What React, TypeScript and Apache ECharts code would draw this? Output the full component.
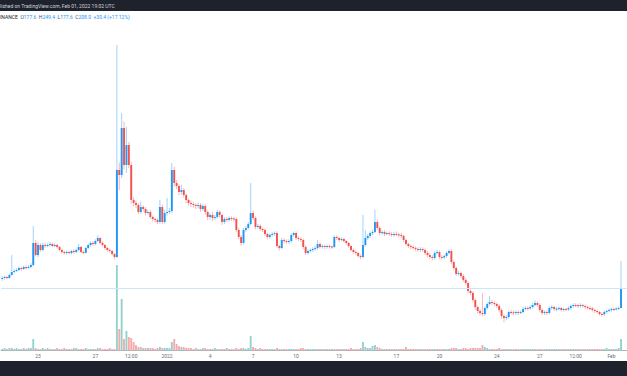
import React, { useEffect, useRef } from "react";
import * as echarts from "echarts";

// 4h candles, Dec 20 12:00 -> Feb 01 16:00 (2021/2022) : [open, close, low, high]
const ohlc: number[][] = [
  [221.7, 223.2, 219, 226], [223.2, 224.7, 221, 227], [224.7, 223.2, 221, 226.5], [223.2, 227.8, 222, 230],
  [227.8, 232.3, 226, 258], [232.3, 233.8, 230, 237], [233.8, 235.4, 232, 238], [235.4, 238.4, 234, 241],
  [238.4, 236.9, 234, 240], [236.9, 239.9, 235, 242], [239.9, 238.4, 236, 242], [238.4, 239.9, 237, 243],
  [239.9, 243.0, 238, 246], [243.0, 276.4, 241, 302], [276.4, 258.2, 256, 281], [258.2, 273.4, 255, 278],
  [273.4, 265.8, 263, 276], [265.8, 273.4, 264, 277], [273.4, 271.8, 269, 276], [271.8, 273.4, 270, 276],
  [273.4, 274.9, 271, 278], [274.9, 271.8, 270, 277], [271.8, 273.4, 270, 276], [273.4, 270.3, 268, 275],
  [270.3, 265.8, 264, 272], [265.8, 262.7, 260, 268], [262.7, 261.2, 259, 265], [261.2, 262.7, 259, 265],
  [262.7, 261.2, 259, 264], [261.2, 264.2, 259, 266], [264.2, 262.7, 260, 267], [262.7, 265.8, 261, 268],
  [265.8, 270.3, 264, 275], [270.3, 262.7, 261, 272], [262.7, 261.5, 259, 265], [261.5, 268.8, 260, 271],
  [268.8, 273.4, 267, 276], [273.4, 276.4, 271, 279], [276.4, 274.9, 272, 279], [274.9, 279.4, 273, 282],
  [279.4, 284.0, 278, 288], [284.0, 276.4, 274, 286], [276.4, 273.4, 271, 279], [273.4, 268.8, 266, 275],
  [268.8, 265.8, 263, 271], [265.8, 264.2, 262, 268], [264.2, 259.7, 257, 266], [259.7, 255.1, 252, 261],
  [255.1, 387.4, 253, 577.4], [387.4, 379.8, 357, 399], [379.8, 451.2, 375, 474], [451.2, 395.0, 388, 461],
  [395.0, 425.4, 383, 453], [425.4, 395.0, 390, 430], [395.0, 341.8, 336, 400], [341.8, 337.2, 332, 346],
  [337.2, 334.2, 329, 341], [334.2, 323.5, 320, 337], [323.5, 331.1, 321, 339], [331.1, 328.1, 324, 334],
  [328.1, 322.0, 318, 331], [322.0, 323.5, 319, 327], [323.5, 315.9, 313, 326], [315.9, 312.9, 309, 318],
  [312.9, 311.4, 308, 315], [311.4, 308.3, 305, 314], [308.3, 331.1, 306, 342], [331.1, 308.3, 305, 335],
  [308.3, 322.0, 306, 327], [322.0, 323.5, 318, 345], [323.5, 325.0, 320, 330], [325.0, 387.4, 322, 398],
  [387.4, 367.6, 362, 392], [367.6, 363.0, 358, 372], [363.0, 353.9, 349, 366], [353.9, 357.0, 350, 365],
  [357.0, 349.4, 345, 360], [349.4, 341.8, 337, 352], [341.8, 337.2, 333, 344], [337.2, 335.7, 331, 341],
  [335.7, 334.2, 330, 339], [334.2, 332.6, 328, 337], [332.6, 334.2, 329, 338], [334.2, 328.1, 324, 337],
  [328.1, 332.6, 325, 336], [332.6, 323.5, 319, 335], [323.5, 315.9, 311, 326], [315.9, 319.0, 312, 322],
  [319.0, 314.4, 310, 324], [314.4, 315.9, 311, 319], [315.9, 323.5, 313, 327], [323.5, 319.0, 315, 326],
  [319.0, 308.3, 304, 321], [308.3, 312.9, 305, 316], [312.9, 311.4, 308, 316], [311.4, 314.4, 309, 317],
  [314.4, 313.5, 310, 317], [313.5, 312.9, 309, 316], [312.9, 296.2, 293, 315], [296.2, 285.5, 282, 299],
  [285.5, 276.4, 272, 288], [276.4, 296.2, 274, 299], [296.2, 299.2, 293, 302], [299.2, 305.3, 297, 308],
  [305.3, 322.0, 303, 367.6], [322.0, 314.4, 311, 326], [314.4, 300.7, 297, 317], [300.7, 302.3, 298, 305],
  [302.3, 297.7, 295, 305], [297.7, 296.2, 293, 300], [296.2, 290.1, 287, 299], [290.1, 285.5, 282, 292],
  [285.5, 288.6, 283, 291], [288.6, 290.1, 286, 293], [290.1, 291.6, 287, 294], [291.6, 271.8, 269, 294],
  [271.8, 268.8, 265, 274], [268.8, 281.0, 267, 284], [281.0, 279.4, 276, 284], [279.4, 277.9, 275, 282],
  [277.9, 279.4, 275, 282], [279.4, 288.6, 277, 291], [288.6, 291.6, 286, 294], [291.6, 284.0, 281, 294],
  [284.0, 282.5, 279, 287], [282.5, 281.0, 278, 285], [281.0, 270.3, 267, 283], [270.3, 261.2, 258, 273],
  [261.2, 264.2, 259, 267], [264.2, 265.8, 262, 268], [265.8, 267.3, 263, 270], [267.3, 268.8, 265, 272],
  [268.8, 274.9, 266, 281], [274.9, 270.3, 268, 277], [270.3, 271.8, 268, 274], [271.8, 270.3, 267, 274],
  [270.3, 271.8, 268, 274], [271.8, 271.0, 268, 274], [271.0, 270.3, 267, 273], [270.3, 285.5, 269, 288],
  [285.5, 284.0, 281, 288], [284.0, 281.0, 278, 286], [281.0, 282.5, 279, 285], [282.5, 279.4, 277, 284],
  [279.4, 276.4, 274, 281], [276.4, 271.8, 269, 278], [271.8, 265.8, 263, 273], [265.8, 262.7, 260, 268],
  [262.7, 261.2, 258, 265], [261.2, 256.6, 254, 263], [256.6, 255.1, 252, 259], [255.1, 273.4, 253, 319],
  [273.4, 284.0, 271, 296], [284.0, 287.1, 281, 290], [287.1, 291.6, 284, 294], [291.6, 293.1, 288, 297],
  [293.1, 308.3, 291, 327], [308.3, 299.2, 296, 312], [299.2, 291.6, 288, 302], [291.6, 293.1, 289, 296],
  [293.1, 290.1, 287, 296], [290.1, 291.6, 288, 294], [291.6, 290.1, 287, 294], [290.1, 288.6, 286, 293],
  [288.6, 290.1, 286, 293], [290.1, 289.5, 287, 294], [289.5, 288.6, 285, 292], [288.6, 287.1, 284, 292],
  [287.1, 281.0, 278, 289], [281.0, 274.9, 272, 283], [274.9, 271.8, 269, 277], [271.8, 270.3, 267, 274],
  [270.3, 268.8, 266, 273], [268.8, 267.3, 264, 271], [267.3, 265.8, 263, 270], [265.8, 267.3, 263, 270],
  [267.3, 265.8, 263, 270], [265.8, 261.2, 258, 268], [261.2, 258.2, 255, 264], [258.2, 255.1, 252, 261],
  [255.1, 253.6, 250, 258], [253.6, 261.2, 251, 264], [261.2, 262.7, 259, 266], [262.7, 255.1, 252, 265],
  [255.1, 254.5, 251, 258], [254.5, 256.6, 252, 259], [256.6, 261.2, 254, 264], [261.2, 264.2, 259, 267],
  [264.2, 247.5, 244, 267], [247.5, 238.4, 235, 250], [238.4, 229.3, 226, 241], [229.3, 230.8, 226, 234],
  [230.8, 226.2, 223, 233], [226.2, 220.2, 217, 229], [220.2, 215.6, 212, 223], [215.6, 203.4, 200, 218],
  [203.4, 200.4, 197, 206], [200.4, 189.8, 186, 203], [189.8, 179.1, 175, 192], [179.1, 173.0, 169, 181],
  [173.0, 170.0, 166, 176], [170.0, 168.5, 165, 200], [168.5, 177.6, 166, 180], [177.6, 183.7, 175, 186],
  [183.7, 186.7, 181, 196], [186.7, 185.2, 182, 190], [185.2, 183.7, 180, 188], [183.7, 180.6, 177, 186],
  [180.6, 174.6, 171, 183], [174.6, 165.4, 161, 177], [165.4, 162.4, 156, 168], [162.4, 163.9, 159, 167],
  [163.9, 171.5, 161, 174], [171.5, 171.0, 168, 175], [171.0, 170.0, 167, 174], [170.0, 171.5, 167, 174],
  [171.5, 170.0, 167, 174], [170.0, 171.5, 168, 174], [171.5, 176.1, 169, 179], [176.1, 177.6, 174, 180],
  [177.6, 177.0, 174, 180], [177.0, 179.1, 175, 182], [179.1, 182.2, 177, 185], [182.2, 185.2, 180, 189],
  [185.2, 182.2, 179, 188], [182.2, 174.6, 171, 185], [174.6, 170.0, 167, 177], [170.0, 171.5, 167, 174],
  [171.5, 170.0, 167, 174], [170.0, 177.6, 168, 180], [177.6, 179.1, 175, 182], [179.1, 176.1, 173, 181],
  [176.1, 176.6, 173, 179], [176.6, 177.6, 174, 180], [177.6, 174.6, 172, 179], [174.6, 176.1, 172, 178],
  [176.1, 175.5, 173, 178], [175.5, 177.6, 173, 180], [177.6, 180.6, 175, 183], [180.6, 182.2, 178, 185],
  [182.2, 181.6, 179, 185], [181.6, 180.6, 178, 184], [180.6, 182.2, 178, 185], [182.2, 180.6, 178, 184],
  [180.6, 179.1, 176, 183], [179.1, 177.6, 175, 181], [177.6, 177.0, 174, 180], [177.0, 174.6, 172, 179],
  [174.6, 173.0, 170, 177], [173.0, 171.5, 169, 175], [171.5, 168.5, 166, 173], [168.5, 168.0, 165, 171],
  [168.0, 171.5, 166, 174], [171.5, 173.0, 169, 175], [173.0, 174.6, 171, 177], [174.6, 176.1, 172, 178],
  [176.1, 175.8, 173, 178], [175.8, 176.8, 174, 179], [176.8, 177.6, 175, 180], [177.6, 208.0, 177.6, 249.4],
];

const volumes: number[] = [
  1, 2, 1, 2, 2, 1, 2, 1, 1, 2, 1, 2, 2,
  11,
  2, 1, 1, 2, 1,
  2, 1, 1, 1, 2, 1, 1, 2, 1, 1, 1, 2, 2, 1, 1, 1, 2, 1, 1, 1, 1, 2, 2, 1, 1, 1, 2, 1, 1,
  85, 21, 51, 11, 19, 13, 12, 8, 5, 3, 3, 2, 2, 2, 2, 2, 1, 2, 3, 2, 2, 2, 2, 8, 11, 6, 4, 3, 3,
  2, 2, 2, 1, 2, 1, 1, 2, 2, 1, 1, 1, 2, 1, 1, 1, 1, 2, 1, 1, 1, 2, 1, 2, 2, 1, 2,
  14,
  3, 2, 1, 2, 1, 1, 1, 1, 1, 1,
  2, 1, 1, 1, 1, 1, 1, 1, 1, 1,
  2, 2, 1, 1, 1, 1, 1, 1, 1, 1,
  1, 1, 1, 1, 1, 1, 1, 1, 1, 1,
  1, 2, 1, 1, 1, 2,
  8, 3, 2, 2, 4, 5, 3, 2,
  1, 1, 1, 1, 1, 1, 1, 1, 1, 1,
  3, 1, 1, 1, 1, 1, 1, 1, 1, 1,
  1, 1, 1, 1, 1, 1, 1, 1, 1, 2,
  2, 2, 1, 1, 2, 2, 1, 2, 2, 2,
  2, 2,
  5, 3, 2,
  1, 1, 1, 1, 2, 1, 1, 1, 1, 1,
  1, 1, 1, 1, 1, 1, 1, 1, 1, 1,
  1, 1, 1, 1, 1, 1, 1, 1, 1, 1,
  1, 1, 1, 1, 1, 1, 1, 1, 1, 1,
  1, 1, 1, 1, 1, 1, 1, 1, 1, 2,
  1, 1, 1, 1, 2,
  11,
];

const tickIndex = [15, 39, 54, 69, 87, 105, 123, 141, 165, 183, 207, 225, 240, 255];
const tickLabels = ["23", "27", "12:00", "2022", "4", "7", "10", "13", "17", "20", "24", "27", "12:00", "Feb"];
const lastQuote = { o: "177.6", h: "249.4", l: "177.6", c: "208.0", chg: "+30.4 (+17.12%)", close: 208.0 };
const slotCount = 262;

const UP = "#2196f3";
const DOWN = "#ef5350";
const WICK_UP = "rgba(33,150,243,0.42)";
const WICK_DOWN = "rgba(239,83,80,0.42)";
const VOL_UP = "rgba(38,166,154,0.5)";
const VOL_DOWN = "rgba(239,83,80,0.5)";

export default function App() {
  const ref = useRef<HTMLDivElement>(null);
  useEffect(() => {
    const chart = echarts.init(ref.current!, null, { renderer: "svg" });
    const cats = Array.from({ length: slotCount }, (_, i) => String(i));
    const font = "Roboto, 'Liberation Sans', sans-serif";

    const renderItem = (params: any, api: any) => {
      const idx = api.value(0);
      const o = api.value(1);
      const c = api.value(2);
      const l = api.value(3);
      const h = api.value(4);
      const pO = api.coord([idx, o]);
      const pC = api.coord([idx, c]);
      const pL = api.coord([idx, l]);
      const pH = api.coord([idx, h]);
      const w = api.size([1, 0])[0] * 0.8;
      const up = c >= o;
      const top = Math.min(pO[1], pC[1]);
      const bh = Math.max(Math.abs(pO[1] - pC[1]), 1);
      return {
        type: "group",
        children: [
          {
            type: "line",
            shape: { x1: pH[0], y1: pH[1], x2: pL[0], y2: pL[1] },
            style: { stroke: up ? WICK_UP : WICK_DOWN, lineWidth: 1 },
          },
          {
            type: "rect",
            shape: { x: pO[0] - w / 2, y: top, width: w, height: bh },
            style: { fill: up ? UP : DOWN },
          },
        ],
      };
    };

    const option: any = {
      animation: false,
      backgroundColor: "#ffffff",
      grid: [
        { left: 1, right: 0, top: 20, height: 330 },
        { left: 1, right: 0, top: 250, height: 100 },
      ],
      xAxis: [
        {
          type: "category", gridIndex: 0, data: cats, boundaryGap: true,
          axisLine: { show: false }, axisTick: { show: false }, axisLabel: { show: false }, splitLine: { show: false },
        },
        {
          type: "category", gridIndex: 1, data: cats, boundaryGap: true,
          axisLine: { show: true, lineStyle: { color: "#b2b5be", width: 1 } },
          axisTick: { show: false },
          splitLine: { show: false },
          axisLabel: {
            show: true,
            interval: (index: number) => tickIndex.includes(index),
            formatter: (_v: string, index: number) => {
              const k = tickIndex.indexOf(index);
              return k >= 0 ? tickLabels[k] : "";
            },
            fontSize: 5,
            color: "#6a6d78",
            fontFamily: font,
            margin: 3,
            hideOverlap: false,
          },
        },
      ],
      yAxis: [
        { type: "value", gridIndex: 0, min: 113.76, max: 615.36, show: false, splitLine: { show: false } },
        { type: "value", gridIndex: 1, min: 0, max: 100, show: false, splitLine: { show: false } },
      ],
      series: [
        {
          type: "bar",
          xAxisIndex: 1,
          yAxisIndex: 1,
          barCategoryGap: "22%",
          data: volumes.map((v, i) => ({
            value: v,
            itemStyle: { color: ohlc[i][1] >= ohlc[i][0] ? VOL_UP : VOL_DOWN },
          })),
        },
        {
          type: "custom",
          xAxisIndex: 0,
          yAxisIndex: 0,
          renderItem,
          encode: { x: 0, y: [1, 2, 3, 4] },
          data: ohlc.map((d, i) => [i, d[0], d[1], d[2], d[3]]),
          markLine: {
            silent: true,
            symbol: ["none", "none"],
            label: { show: false },
            lineStyle: { color: "#cce5fb", width: 1, type: "solid" },
            data: [{ yAxis: lastQuote.close }],
          },
        },
      ],
      graphic: [
        { type: "rect", left: 0, top: 0, shape: { width: 627, height: 11 }, style: { fill: "#1e222d" }, z: 100 },
        {
          type: "text", x: 0, y: 5.5, z: 101,
          style: {
            text: "lished on TradingView.com, Feb 01, 2022 19:02 UTC",
            fill: "#d1d4dc", fontSize: 5, fontFamily: font, verticalAlign: "middle",
          },
        },
        {
          type: "text", x: 0, y: 16.5, z: 101,
          style: {
            text: `{n|INANCE}  {k|O}{v|${lastQuote.o}}  {k|H}{v|${lastQuote.h}}  {k|L}{v|${lastQuote.l}}  {k|C}{v|${lastQuote.c}}  {v|${lastQuote.chg}}`,
            fontSize: 5, fontFamily: font, verticalAlign: "middle",
            rich: {
              n: { fill: "#131722", fontSize: 5, fontFamily: font },
              k: { fill: "#50535e", fontSize: 5, fontFamily: font },
              v: { fill: "#2196f3", fontSize: 5, fontFamily: font },
            },
          },
        },
        { type: "rect", left: 0, top: 361, shape: { width: 627, height: 15 }, style: { fill: "#1e222d" }, z: 100 },
      ],
    };
    chart.setOption(option);
    return () => chart.dispose();
  }, []);
  return <div ref={ref} style={{ position: "absolute", left: 0, top: 0, width: 627, height: 376 }} />;
}
